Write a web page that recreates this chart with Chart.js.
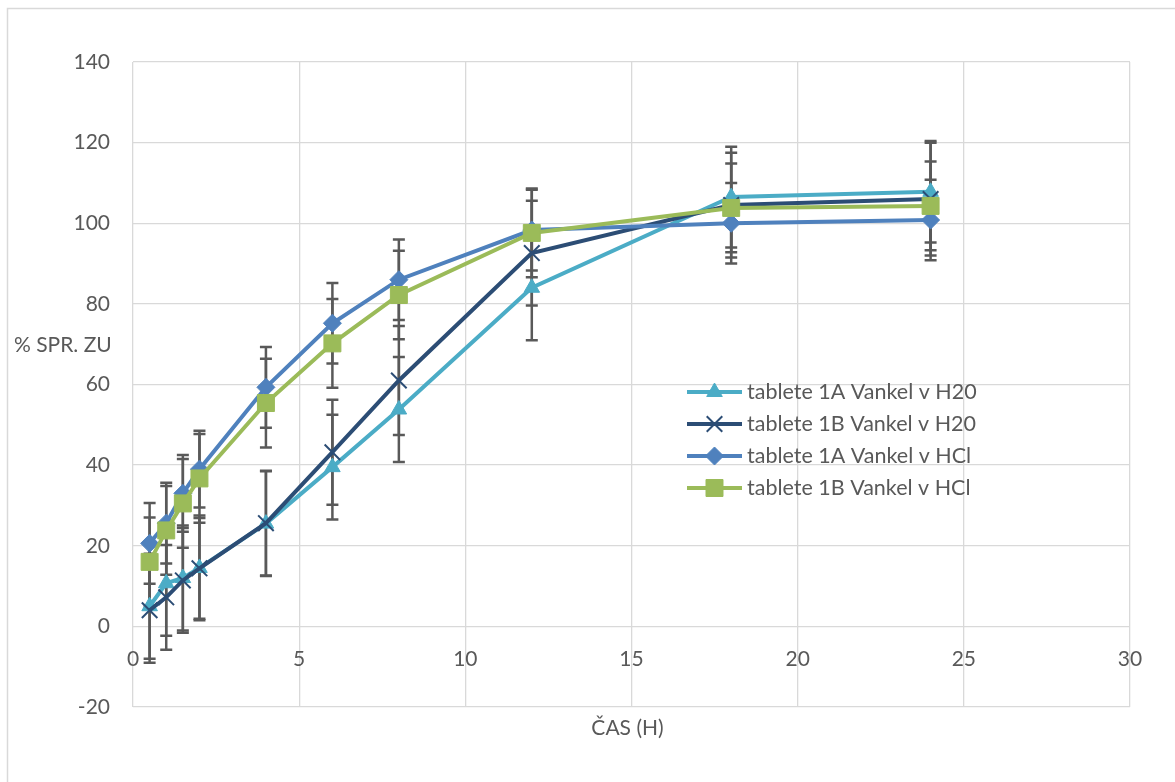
<!DOCTYPE html>
<html>
<head>
<meta charset="utf-8">
<script src="https://cdn.jsdelivr.net/npm/chart.js@4.4.1/dist/chart.umd.min.js"></script>
<style>
  html, body { margin: 0; padding: 0; background: #fff; }
  #wrap { width: 1175px; height: 782px; }
</style>
</head>
<body>
<div id="wrap"><canvas id="myChart" width="1175" height="782"></canvas></div>
<script>
// sampling times (h)
var times = [0.5, 1, 1.5, 2, 4, 6, 8, 12, 18, 24];

// % released, means
var h2o1A = [5, 10.7, 12, 14.5, 25.5, 39.5, 53.8, 84, 106.5, 107.8];
var h2o1B = [4, 7.2, 11.4, 14.4, 25.6, 43.2, 61, 92.6, 104.5, 106];
var hcl1A = [20.6, 25.6, 33, 39, 59.3, 75.2, 86, 98.3, 100, 100.8];
var hcl1B = [16, 23.8, 30.5, 36.7, 55.4, 70.2, 82.2, 97.6, 103.8, 104.3];

// +/- standard deviation
var h2o1AErr = [13, 13, 13, 13, 13, 13, 13, 13, 12.5, 12.6];
var h2o1BErr = [13, 13, 13, 12.5, 13, 13, 13.5, 13, 13, 14];
var hcl1AErr = [10, 10, 9.5, 9.5, 10, 10, 10, 10, 10, 10];
var hcl1BErr = [11, 11, 11, 11, 11, 11, 11, 11, 11, 11];

var seriesNames = ['tablete 1A Vankel v H20', 'tablete 1B Vankel v H20', 'tablete 1A Vankel v HCl', 'tablete 1B Vankel v HCl'];

var textColor = '#595959';
var gridColor = '#d9d9d9';

function points(ys) {
    return times.map(function (t, i) { return { x: t, y: ys[i] }; });
}

function series(idx, ys, errs, color, style, radius, order) {
    return {
        label: seriesNames[idx],
        data: points(ys),
        errors: errs,
        borderColor: color,
        backgroundColor: color,
        borderWidth: 4,
        pointStyle: style,
        pointRadius: radius,
        pointBorderWidth: style === 'crossRot' ? 2 : 1,
        pointBorderColor: color,
        pointBackgroundColor: color,
        tension: 0,
        order: order
    };
}

// vertical error bars with caps, drawn under the lines
var errorBars = {
    id: 'errorBars',
    beforeDatasetsDraw: function (chart) {
        var ctx = chart.ctx;
        var yScale = chart.scales.y;
        ctx.save();
        ctx.strokeStyle = '#595959';
        ctx.lineWidth = 2.5;
        chart.data.datasets.forEach(function (ds, i) {
            var meta = chart.getDatasetMeta(i);
            meta.data.forEach(function (el, j) {
                var v = ds.data[j].y, e = ds.errors[j];
                var top = yScale.getPixelForValue(v + e);
                var bot = yScale.getPixelForValue(v - e);
                ctx.beginPath();
                ctx.moveTo(el.x, top);
                ctx.lineTo(el.x, bot);
                ctx.moveTo(el.x - 6, top);
                ctx.lineTo(el.x + 6, top);
                ctx.moveTo(el.x - 6, bot);
                ctx.lineTo(el.x + 6, bot);
                ctx.stroke();
            });
        });
        ctx.restore();
    }
};

// axis titles, legend box and outer frame
var decorations = {
    id: 'decorations',
    afterDraw: function (chart) {
        var ctx = chart.ctx;
        var area = chart.chartArea;
        ctx.save();

        ctx.strokeStyle = gridColor;
        ctx.lineWidth = 1.5;
        ctx.strokeRect(7.5, 8.5, 1200, 800);

        ctx.fillStyle = textColor;
        ctx.font = '21px Lato';
        ctx.textBaseline = 'middle';
        ctx.textAlign = 'left';
        ctx.fillText('% SPR. ZU', 14, 345);
        ctx.textAlign = 'center';
        ctx.fillText('ČAS (H)', (area.left + area.right) / 2 - 4, 728);

        // legend
        var lx = 687, lw = 55, ly = 392, step = 32;
        ctx.font = '21.5px Lato';
        ctx.textAlign = 'left';
        chart.data.datasets.forEach(function (ds, i) {
            var y = ly + i * step;
            ctx.strokeStyle = ds.borderColor;
            ctx.lineWidth = ds.borderWidth;
            ctx.beginPath();
            ctx.moveTo(lx, y);
            ctx.lineTo(lx + lw, y);
            ctx.stroke();
            ctx.fillStyle = ds.backgroundColor;
            ctx.lineWidth = ds.pointBorderWidth;
            Chart.helpers.drawPoint(ctx, {
                pointStyle: ds.pointStyle,
                radius: ds.pointRadius,
                rotation: 0,
                borderWidth: ds.pointBorderWidth
            }, lx + lw / 2, y);
            ctx.fillStyle = textColor;
            ctx.fillText(ds.label, lx + lw + 5, y);
        });
        ctx.restore();
    }
};

var ctx = document.getElementById('myChart').getContext('2d');
var myChart = new Chart(ctx, {
    type: 'line',
    data: {
        datasets: [
            series(0, h2o1A, h2o1AErr, '#4BACC6', 'triangle', 9, 3),
            series(1, h2o1B, h2o1BErr, '#2C4D75', 'crossRot', 11, 2),
            series(2, hcl1A, hcl1AErr, '#4F81BD', 'rectRot', 9, 1),
            series(3, hcl1B, hcl1BErr, '#9BBB59', 'rect', 12, 0)
        ]
    },
    options: {
        responsive: false,
        animation: false,
        devicePixelRatio: 1,
        layout: {
            padding: { left: 0, top: 62, right: 45, bottom: 75 }
        },
        plugins: {
            legend: { display: false },
            tooltip: { enabled: false }
        },
        scales: {
            x: {
                type: 'linear',
                position: { y: 0 },
                min: 0,
                max: 30,
                ticks: {
                    stepSize: 5,
                    color: textColor,
                    padding: 20,
                    maxRotation: 0,
                    font: { family: 'Lato', size: 21 }
                },
                grid: { color: gridColor, lineWidth: 1.3, drawTicks: false },
                border: { display: false }
            },
            y: {
                min: -20,
                max: 140,
                ticks: {
                    stepSize: 20,
                    color: textColor,
                    padding: 23,
                    font: { family: 'Lato', size: 21 }
                },
                grid: { color: gridColor, lineWidth: 1.3, drawTicks: false },
                border: { display: false },
                afterFit: function (scale) { scale.width = 133; }
            }
        }
    },
    plugins: [errorBars, decorations]
});
</script>
</body>
</html>
